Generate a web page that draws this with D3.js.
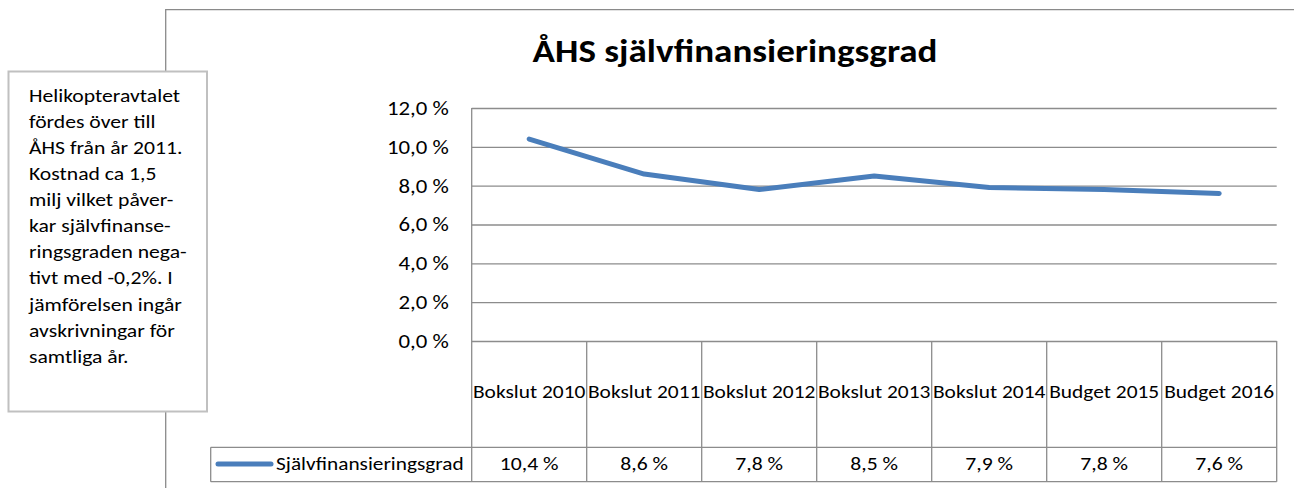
<!DOCTYPE html>
<html>
<head>
<meta charset="utf-8">
<script src="https://cdn.jsdelivr.net/npm/d3@7"></script>
<style>
  body { margin: 0; background: #fff; }
  svg text { font-family: Carlito, "Open Sans", sans-serif; fill: #000; }
</style>
</head>
<body>
<div id="chart"></div>
<script>
// data
var categories = ["Bokslut 2010", "Bokslut 2011", "Bokslut 2012", "Bokslut 2013", "Bokslut 2014", "Budget 2015", "Budget 2016"];
var values = [10.4, 8.6, 7.8, 8.5, 7.9, 7.8, 7.6];
var valueLabels = ["10,4 %", "8,6 %", "7,8 %", "8,5 %", "7,9 %", "7,8 %", "7,6 %"];
var yTicks = [0, 2, 4, 6, 8, 10, 12];
var seriesName = "Självfinansieringsgrad";
var chartTitle = "ÅHS självfinansieringsgrad";
var noteLines = ["Helikopteravtalet", "fördes över till", "ÅHS från år 2011.", "Kostnad ca 1,5",
  "milj vilket påver-", "kar självfinanse-", "ringsgraden nega-", "tivt med -0,2%. I",
  "jämförelsen ingår", "avskrivningar för", "samtliga år."];

var width = 1294, height = 488;
var plotLeft = 471.7, plotRight = 1276.7, plotTop = 108, plotBottom = 341;
var catRowBottom = 447.3, valRowBottom = 481.7, legendLeft = 210.7;
var gridColor = "#8c8c8c";
var stretchX = 1.14; // the original picture is a little wider than tall

var svg = d3.select("#chart").append("svg")
  .attr("width", width)
  .attr("height", height);

// outer chart frame (continues past the window)
svg.append("path")
  .attr("d", "M165.7,490 V9.7 H1300")
  .attr("fill", "none")
  .attr("stroke", "#8a8a8a")
  .attr("stroke-width", 1.3);

var x = d3.scaleBand().domain(categories).range([plotLeft, plotRight]).padding(0);
var y = d3.scaleLinear().domain([0, 12]).range([plotBottom, plotTop]);

// gridlines + tick labels
var yAxis = d3.axisLeft(y)
  .tickValues(yTicks)
  .tickSize(-(plotRight - plotLeft))
  .tickPadding(23)
  .tickFormat(function (d) { return d3.format(".1f")(d).replace(".", ",") + " %"; });

var gy = svg.append("g")
  .attr("transform", "translate(" + plotLeft + ",0)")
  .call(yAxis);
gy.select(".domain").remove();
gy.selectAll(".tick line").attr("stroke", gridColor).attr("stroke-width", 1.3);
gy.selectAll(".tick text").attr("font-size", 20).attr("font-family", "Carlito, 'Open Sans', sans-serif");

// data table below the plot
var tbl = svg.append("g").attr("class", "datatable");
tbl.append("line")
  .attr("x1", plotLeft).attr("x2", plotLeft)
  .attr("y1", plotTop).attr("y2", valRowBottom)
  .attr("stroke", gridColor).attr("stroke-width", 1.3);
tbl.selectAll("line.col")
  .data(categories)
  .enter().append("line")
  .attr("class", "col")
  .attr("x1", function (d) { return x(d) + x.bandwidth(); })
  .attr("x2", function (d) { return x(d) + x.bandwidth(); })
  .attr("y1", plotBottom).attr("y2", valRowBottom)
  .attr("stroke", gridColor).attr("stroke-width", 1.3);
[catRowBottom, valRowBottom].forEach(function (yy) {
  tbl.append("line")
    .attr("x1", legendLeft).attr("x2", plotRight)
    .attr("y1", yy).attr("y2", yy)
    .attr("stroke", gridColor).attr("stroke-width", 1.3);
});
tbl.append("line")
  .attr("x1", legendLeft).attr("x2", legendLeft)
  .attr("y1", catRowBottom).attr("y2", valRowBottom)
  .attr("stroke", gridColor).attr("stroke-width", 1.3);

tbl.selectAll("text.cat")
  .data(categories)
  .enter().append("text")
  .attr("class", "cat")
  .attr("x", function (d) { return x(d) + x.bandwidth() / 2; })
  .attr("y", 391)
  .attr("dy", ".35em")
  .attr("text-anchor", "middle")
  .attr("font-size", 18.8)
  .text(function (d) { return d; });

tbl.selectAll("text.val")
  .data(valueLabels)
  .enter().append("text")
  .attr("class", "val")
  .attr("x", function (d, i) { return x(categories[i]) + x.bandwidth() / 2; })
  .attr("y", 463.5)
  .attr("dy", ".35em")
  .attr("text-anchor", "middle")
  .attr("font-size", 19)
  .text(function (d) { return d; });

// legend key in the table
tbl.append("line")
  .attr("x1", 218).attr("x2", 271)
  .attr("y1", 464).attr("y2", 464)
  .attr("stroke", "#4a7ebb").attr("stroke-width", 5).attr("stroke-linecap", "round");
tbl.append("text")
  .attr("x", 276).attr("y", 463).attr("dy", ".35em")
  .attr("font-size", 18.7)
  .text(seriesName);

// the series line
var line = d3.line()
  .x(function (d, i) { return x(categories[i]) + x.bandwidth() / 2; })
  .y(function (d) { return y(d); });
svg.append("path")
  .datum(values)
  .attr("d", line)
  .attr("fill", "none")
  .attr("stroke", "#4a7ebb")
  .attr("stroke-width", 5)
  .attr("stroke-linecap", "round")
  .attr("stroke-linejoin", "round");

// title
svg.append("text")
  .attr("x", 735).attr("y", 62)
  .attr("text-anchor", "middle")
  .attr("font-size", 32.5)
  .attr("font-weight", "bold")
  .text(chartTitle);

// note box on the left
var note = svg.append("g");
note.append("rect")
  .attr("x", 8.5).attr("y", 71.5)
  .attr("width", 198.5).attr("height", 340)
  .attr("fill", "#fff")
  .attr("stroke", "#c0c0c0").attr("stroke-width", 2);
note.selectAll("text")
  .data(noteLines)
  .enter().append("text")
  .attr("x", 29)
  .attr("y", function (d, i) { return 101.7 + i * 26.1; })
  .attr("font-size", 19)
  .text(function (d) { return d; });

// widen all text a bit, like the stretched original
svg.selectAll("text").each(function () {
  var w = this.getComputedTextLength();
  d3.select(this)
    .attr("textLength", w * stretchX)
    .attr("lengthAdjust", "spacingAndGlyphs");
});
</script>
</body>
</html>
